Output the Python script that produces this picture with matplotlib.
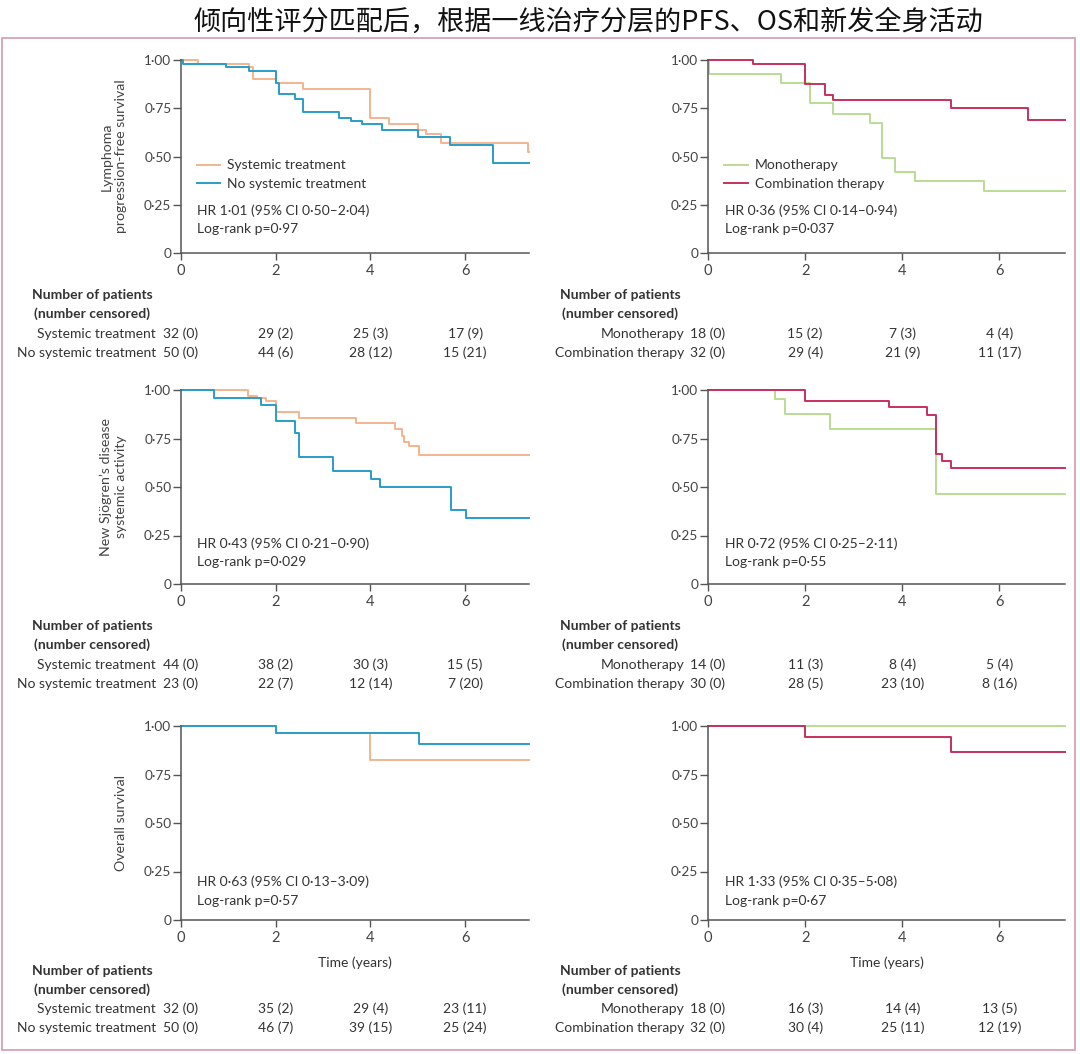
import numpy as np
import matplotlib
matplotlib.use('Agg')
import matplotlib.pyplot as plt
from matplotlib.transforms import blended_transform_factory
from matplotlib.patches import Rectangle

plt.rcParams['font.family'] = ['Lato', 'Noto Sans CJK SC', 'DejaVu Sans']

T_END = 7.35  # end of follow-up shown (years)

# --- Kaplan-Meier step data (time of step, survival after step) ---
# lymphoma PFS, systemic vs no systemic
pfs_sys_t = [0, 0.35, 1.43, 1.52, 2.0, 2.57, 4.0, 4.4, 5.0, 5.18, 5.49, 7.33]
pfs_sys_s = [1.0, 0.981, 0.962, 0.90, 0.88, 0.848, 0.70, 0.667, 0.636, 0.616, 0.57, 0.524]
pfs_nosys_t = [0, 0.05, 0.94, 1.43, 2.0, 2.08, 2.4, 2.57, 3.33, 3.58, 3.82, 4.25, 5.0, 5.68, 6.59]
pfs_nosys_s = [1.0, 0.98, 0.964, 0.943, 0.88, 0.826, 0.797, 0.733, 0.70, 0.685, 0.667, 0.636, 0.60, 0.559, 0.464]
# lymphoma PFS, mono vs combination
pfs_mono_t = [0, 0.03, 1.51, 2.09, 2.58, 3.34, 3.59, 3.85, 4.26, 5.68]
pfs_mono_s = [1.0, 0.926, 0.88, 0.776, 0.722, 0.674, 0.491, 0.422, 0.374, 0.319]
pfs_comb_t = [0, 0.92, 2.0, 2.41, 2.58, 5.01, 6.59]
pfs_comb_s = [1.0, 0.978, 0.874, 0.819, 0.793, 0.753, 0.69]
# new systemic activity
act_sys_t = [0, 1.41, 1.6, 1.8, 2.0, 2.5, 3.7, 4.51, 4.66, 4.72, 4.81, 5.02]
act_sys_s = [1.0, 0.969, 0.957, 0.943, 0.888, 0.857, 0.832, 0.798, 0.765, 0.734, 0.712, 0.666]
act_nosys_t = [0, 0.69, 1.69, 2.0, 2.4, 2.5, 3.2, 4.01, 4.21, 5.7, 6.02]
act_nosys_s = [1.0, 0.961, 0.923, 0.84, 0.78, 0.657, 0.585, 0.542, 0.5, 0.383, 0.34]
act_mono_t = [0, 1.38, 1.59, 2.51, 4.70]
act_mono_s = [1.0, 0.954, 0.875, 0.80, 0.463]
act_comb_t = [0, 2.0, 3.72, 4.51, 4.70, 4.82, 5.01]
act_comb_s = [1.0, 0.943, 0.911, 0.871, 0.672, 0.636, 0.597]
# overall survival
os_sys_t = [0, 2.0, 4.0]
os_sys_s = [1.0, 0.966, 0.825]
os_nosys_t = [0, 2.0, 5.02]
os_nosys_s = [1.0, 0.966, 0.909]
os_mono_t = [0]
os_mono_s = [1.0]
os_comb_t = [0, 2.0, 5.01]
os_comb_s = [1.0, 0.942, 0.868]

# --- numbers at risk (number censored) at 0, 2, 4, 6 years ---
risk_times = [0, 2, 4, 6]
pfs_sys_risk = ['32 (0)', '29 (2)', '25 (3)', '17 (9)']
pfs_nosys_risk = ['50 (0)', '44 (6)', '28 (12)', '15 (21)']
pfs_mono_risk = ['18 (0)', '15 (2)', '7 (3)', '4 (4)']
pfs_comb_risk = ['32 (0)', '29 (4)', '21 (9)', '11 (17)']
act_sys_risk = ['44 (0)', '38 (2)', '30 (3)', '15 (5)']
act_nosys_risk = ['23 (0)', '22 (7)', '12 (14)', '7 (20)']
act_mono_risk = ['14 (0)', '11 (3)', '8 (4)', '5 (4)']
act_comb_risk = ['30 (0)', '28 (5)', '23 (10)', '8 (16)']
os_sys_risk = ['32 (0)', '35 (2)', '29 (4)', '23 (11)']
os_nosys_risk = ['50 (0)', '46 (7)', '39 (15)', '25 (24)']
os_mono_risk = ['18 (0)', '16 (3)', '14 (4)', '13 (5)']
os_comb_risk = ['32 (0)', '30 (4)', '25 (11)', '12 (19)']

stats_text = [
    ['HR 1·01 (95% CI 0·50–2·04)\nLog-rank p=0·97', 'HR 0·36 (95% CI 0·14–0·94)\nLog-rank p=0·037'],
    ['HR 0·43 (95% CI 0·21–0·90)\nLog-rank p=0·029', 'HR 0·72 (95% CI 0·25–2·11)\nLog-rank p=0·55'],
    ['HR 0·63 (95% CI 0·13–3·09)\nLog-rank p=0·57', 'HR 1·33 (95% CI 0·35–5·08)\nLog-rank p=0·67'],
]
ylabels = ['Lymphoma\nprogression-free survival',
           'New Sjögren’s disease\nsystemic activity',
           'Overall survival']

c_sys = '#f3b48e'
c_nosys = '#2a9dc8'
c_mono = '#b9dc92'
c_comb = '#c7305c'
txt = '#333333'

W, H = 1080, 1054
fig = plt.figure(figsize=(W / 100, H / 100), dpi=100)

fig.text(0.545, 0.979, '倾向性评分匹配后，根据一线治疗分层的PFS、OS和新发全身活动',
         ha='center', va='center', fontsize=19.5, color='#111111',
         family=['Noto Sans CJK SC', 'DejaVu Sans'])
fig.patches.append(Rectangle((2 / W, 1 - 1050 / H), 1073 / W, 1012 / H,
                             transform=fig.transFigure, fill=False,
                             edgecolor='#d7a3b6', lw=1.3))

col_x = [(181, 529), (708, 1065)]
row_y = [(60, 253), (390, 584), (726, 920)]
stat_y = [0.172, 0.162, 0.148]

panels = [
    [((pfs_sys_t, pfs_sys_s, pfs_sys_risk), (pfs_nosys_t, pfs_nosys_s, pfs_nosys_risk)),
     ((pfs_mono_t, pfs_mono_s, pfs_mono_risk), (pfs_comb_t, pfs_comb_s, pfs_comb_risk))],
    [((act_sys_t, act_sys_s, act_sys_risk), (act_nosys_t, act_nosys_s, act_nosys_risk)),
     ((act_mono_t, act_mono_s, act_mono_risk), (act_comb_t, act_comb_s, act_comb_risk))],
    [((os_sys_t, os_sys_s, os_sys_risk), (os_nosys_t, os_nosys_s, os_nosys_risk)),
     ((os_mono_t, os_mono_s, os_mono_risk), (os_comb_t, os_comb_s, os_comb_risk))],
]
group_names = [('Systemic treatment', 'No systemic treatment'),
               ('Monotherapy', 'Combination therapy')]
group_colors = [(c_sys, c_nosys), (c_mono, c_comb)]

for r in range(3):
    for c in range(2):
        x0, x1 = col_x[c]
        y0, y1 = row_y[r]
        ax = fig.add_axes([x0 / W, 1 - y1 / H, (x1 - x0) / W, (y1 - y0) / H])
        ax_h = y1 - y0
        g1, g2 = panels[r][c]
        for (t, s, _), name, col in zip((g1, g2), group_names[c], group_colors[c]):
            ax.step(np.append(t, T_END), np.append(s, s[-1]), where='post',
                    color=col, lw=1.4, label=name, clip_on=False)
        ax.set_xlim(0, T_END)
        ax.set_ylim(0, 1)
        for sp in ['top', 'right']:
            ax.spines[sp].set_visible(False)
        for sp in ['left', 'bottom']:
            ax.spines[sp].set_color('#555555')
            ax.spines[sp].set_linewidth(1.1)
        ax.set_xticks([0, 2, 4, 6])
        ax.set_yticks([0, 0.25, 0.5, 0.75, 1.0])
        ax.set_yticklabels(['0', '0·25', '0·50', '0·75', '1·00'])
        ax.tick_params(axis='y', length=6, width=1, color='#555555',
                       labelsize=9.8, labelcolor='#444444', pad=1)
        ax.tick_params(axis='x', length=5, width=1, color='#555555',
                       labelsize=10.5, labelcolor='#444444', pad=3)

        if c == 0:
            ax.set_ylabel(ylabels[r], fontsize=10.2, color='#444444',
                          labelpad=12, linespacing=1.3)
        if r == 0:
            ax.legend(loc='upper left', bbox_to_anchor=(0.045, 0.485),
                      frameon=False, handlelength=1.7, handletextpad=0.5,
                      labelspacing=0.5, borderpad=0, borderaxespad=0,
                      fontsize=10, labelcolor=txt)
        ax.text(0.047, stat_y[r], stats_text[r][c], transform=ax.transAxes,
                ha='left', va='center', fontsize=10, color=txt,
                linespacing=1.65)

        # risk table below the axes
        tr = blended_transform_factory(ax.transData, ax.transAxes)
        ppy = (x1 - x0) / T_END
        if r == 2:
            ax.set_xlabel('Time (years)', fontsize=10, color=txt, labelpad=8)
            offs = [51, 70, 89, 108]
        else:
            offs = [42, 61, 81, 100]
        head_x = -(x0 - (92 if c == 0 else 620)) / ppy
        ax.text(head_x, -offs[0] / ax_h, 'Number of patients', transform=tr,
                ha='center', va='center', fontsize=10, fontweight='bold', color=txt)
        ax.text(head_x, -offs[1] / ax_h, '(number censored)', transform=tr,
                ha='center', va='center', fontsize=10, fontweight='bold', color=txt)
        lab_x = -(x0 - (156 if c == 0 else 684)) / ppy
        for k, ((_, _, risk), name) in enumerate(zip((g1, g2), group_names[c])):
            yy = -offs[2 + k] / ax_h
            ax.text(lab_x, yy, name, transform=tr, ha='right', va='center',
                    fontsize=10, color=txt)
            for tx, val in zip(risk_times, risk):
                ax.text(tx, yy, val, transform=tr, ha='center', va='center',
                        fontsize=10, color=txt)

fig.savefig('out.png', dpi=100)
